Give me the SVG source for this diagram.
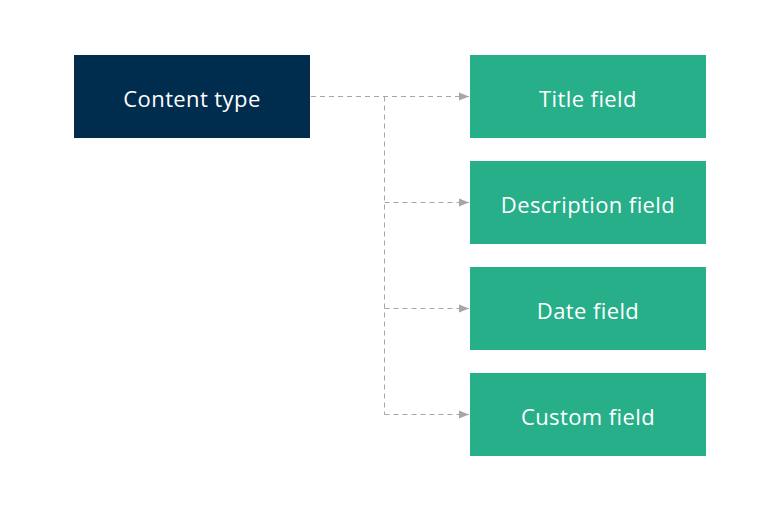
<svg xmlns="http://www.w3.org/2000/svg" width="769" height="512" viewBox="0 0 769 512">
<style>
.lbl{font-family:"Open Sans","DejaVu Sans",sans-serif;font-size:22px;letter-spacing:0.4px;fill:#ffffff;text-anchor:middle;dominant-baseline:central}
.field{fill:#27AF8A}
.conn{fill:none;stroke:#A6A6A6;stroke-width:1;stroke-dasharray:5,4}
</style>
<defs>
<marker id="arr" viewBox="0 0 10 10" refX="10" refY="5" markerWidth="10" markerHeight="10" markerUnits="userSpaceOnUse" orient="auto">
<path d="M0,1 L10,5 L0,9 Z" fill="#A6A6A6"/>
</marker>
</defs>
<rect width="769" height="512" fill="#ffffff"/>
<g id="connectors">
<path class="conn" d="M311,96.5 H469" marker-end="url(#arr)"/>
<path class="conn" d="M384.5,96.5 V414.5"/>
<path class="conn" d="M384.5,202.5 H469" marker-end="url(#arr)"/>
<path class="conn" d="M384.5,308.5 H469" marker-end="url(#arr)"/>
<path class="conn" d="M384.5,414.5 H469" marker-end="url(#arr)"/>
</g>
<g id="content-type">
<rect x="74" y="55" width="236" height="83" fill="#002C4E"/>
<text class="lbl" x="192" y="98">Content type</text>
</g>
<g id="title-field">
<rect class="field" x="470" y="55" width="236" height="83"/>
<text class="lbl" x="588" y="98">Title field</text>
</g>
<g id="description-field">
<rect class="field" x="470" y="161" width="236" height="83"/>
<text class="lbl" x="588" y="204">Description field</text>
</g>
<g id="date-field">
<rect class="field" x="470" y="267" width="236" height="83"/>
<text class="lbl" x="588" y="310">Date field</text>
</g>
<g id="custom-field">
<rect class="field" x="470" y="373" width="236" height="83"/>
<text class="lbl" x="588" y="416">Custom field</text>
</g>
</svg>
